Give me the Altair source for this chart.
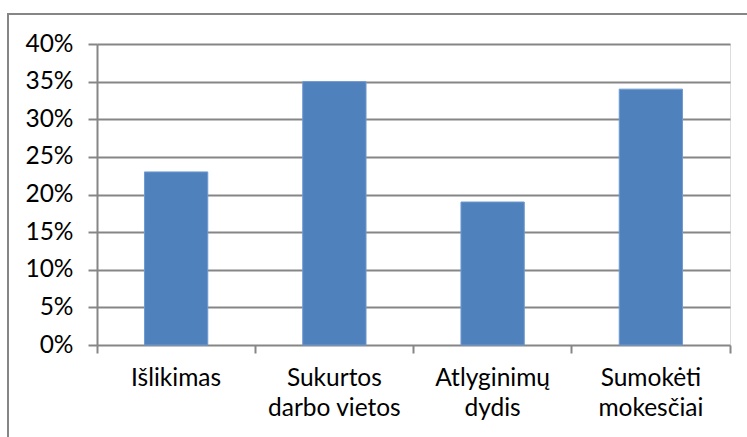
import json
import altair as alt
import pandas as pd

# Categories, their two-line axis labels, and shares
categories = ["Išlikimas", "Sukurtos darbo vietos", "Atlyginimų dydis", "Sumokėti mokesčiai"]
label_lines = [["Išlikimas"], ["Sukurtos", "darbo vietos"], ["Atlyginimų", "dydis"], ["Sumokėti", "mokesčiai"]]
shares = [0.23, 0.35, 0.19, 0.34]

df = pd.DataFrame({"category": categories, "share": shares})

label_map = json.dumps(dict(zip(categories, label_lines)), ensure_ascii=False)
label_expr = f"{label_map}[datum.value]"

FONT = "Lato"
FONT_SIZE = 24.5
GRID = "#868686"

bars = alt.Chart(df).mark_bar(
    color="#4F81BD", stroke="#6F9AD0", strokeWidth=1,
    width=alt.RelativeBandSize(0.4),
).encode(
    x=alt.X(
        "category:N", sort=categories, title=None,
        scale=alt.Scale(paddingInner=0, paddingOuter=0),
        axis=alt.Axis(
            labelExpr=label_expr, labelAngle=0, labelFontSize=FONT_SIZE, labelFont=FONT,
            labelColor="#000000", labelPadding=13, labelLineHeight=30,
            labelBaseline="top",
            domain=False, ticks=True, tickSize=8, tickColor=GRID, tickWidth=2,
            bandPosition=1, tickExtra=True, grid=False,
        ),
    ),
    y=alt.Y(
        "share:Q", title=None,
        scale=alt.Scale(domain=[0, 0.4], nice=False),
        axis=alt.Axis(
            format=".0%", values=[0, 0.05, 0.1, 0.15, 0.2, 0.25, 0.3, 0.35, 0.4],
            labelFontSize=FONT_SIZE, labelFont=FONT, labelColor="#000000",
            labelPadding=15, tickSize=9, tickColor=GRID, tickWidth=2,
            domainColor=GRID, domainWidth=2, grid=True, gridColor=GRID,
            gridWidth=2,
        ),
    ),
)

# outer chart frame
frame = alt.Chart(pd.DataFrame({"k": [0]})).mark_rect(
    fill=None, stroke="#868686", strokeWidth=2, clip=False,
).encode(
    x=alt.value(-89), x2=alt.value(660), y=alt.value(-30), y2=alt.value(400),
)

chart = alt.layer(frame, bars).properties(
    width=633, height=301,
    autosize=alt.AutoSizeParams(type="none"),
    padding={"left": 97, "top": 44, "right": 17, "bottom": 92},
).configure_view(stroke=None).configure(background="#ffffff")

chart.save("out.html", embed_options={"renderer": "svg", "actions": False})
